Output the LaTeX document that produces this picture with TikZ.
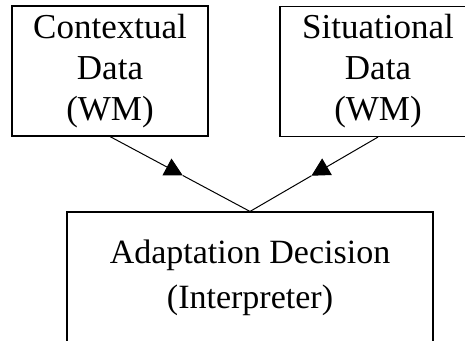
\documentclass[tikz,border=0pt]{standalone}
\usepackage{fontspec}
\setmainfont{Liberation Serif}
\usetikzlibrary{arrows.meta,calc}
\tikzset{
  databox/.style={draw, line width=1.1pt, minimum width=196pt, minimum height=130pt,
    align=center, inner sep=0pt, font=\fontsize{35}{41}\selectfont},
  decisionbox/.style={draw, line width=1.1pt, minimum width=366pt, minimum height=132pt,
    align=center, inner sep=0pt, font=\fontsize{34}{45}\selectfont},
  feed/.style={line width=1pt},
  feedtip/.style={feed, -{Triangle[length=18pt,width=19pt]}}
}
\begin{document}
\begin{tikzpicture}[x=1pt,y=-1pt]
  \useasboundingbox (0,0) rectangle (465,340);
  \clip (0,0) rectangle (465,340);
  \node[databox] (ctx) at (110,71) {Contextual\\Data\\(WM)};
  \node[databox] (sit) at (378,71.5) {Situational\\Data\\(WM)};
  \node[decisionbox] (dec) at (250,278) {Adaptation Decision\\(Interpreter)};
  % each feed carries its arrowhead halfway down
  \coordinate (ctxmid) at ($(ctx.south)!0.52!(dec.north)$);
  \coordinate (sitmid) at ($(sit.south)!0.52!(dec.north)$);
  \draw[feedtip] (ctx.south) -- (ctxmid);
  \draw[feed] (ctxmid) -- (dec.north);
  \draw[feedtip] (sit.south) -- (sitmid);
  \draw[feed] (sitmid) -- (dec.north);
\end{tikzpicture}
\end{document}
